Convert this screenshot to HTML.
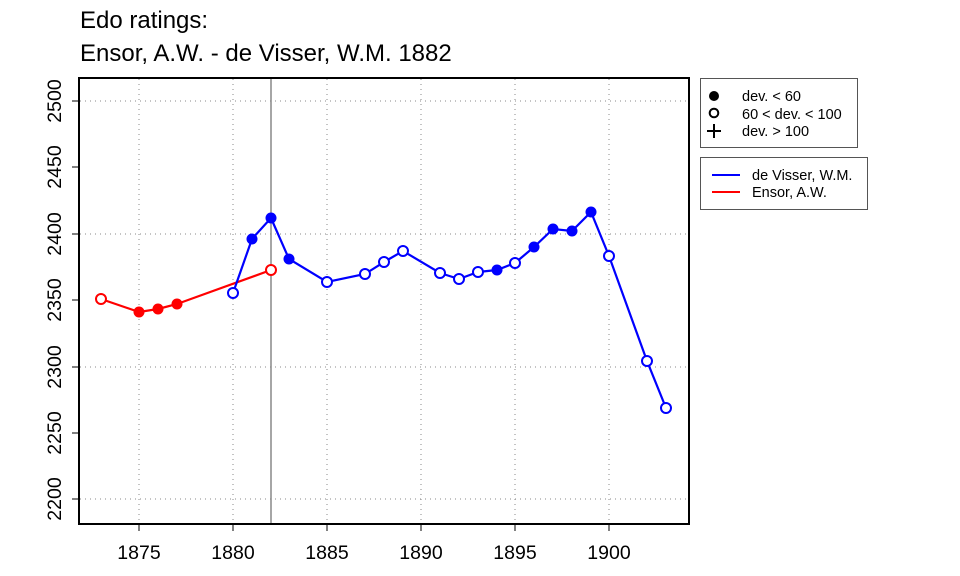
<!DOCTYPE html>
<html><head><style>body{margin:0;background:#fff}svg{display:block}</style></head><body>
<svg width="960" height="576" xmlns="http://www.w3.org/2000/svg" font-family="Liberation Sans, sans-serif">
<rect width="960" height="576" fill="#fff"/>
<text x="80" y="28" font-size="24">Edo ratings:</text>
<text x="80" y="61" font-size="24">Ensor, A.W. - de Visser, W.M. 1882</text>
<g stroke="#888" stroke-width="1" stroke-dasharray="1,4">
<line x1="139" y1="79" x2="139" y2="523"/><line x1="233" y1="79" x2="233" y2="523"/><line x1="327" y1="79" x2="327" y2="523"/><line x1="421" y1="79" x2="421" y2="523"/><line x1="515" y1="79" x2="515" y2="523"/><line x1="609" y1="79" x2="609" y2="523"/>
<line x1="80" y1="101" x2="688" y2="101"/><line x1="80" y1="234" x2="688" y2="234"/><line x1="80" y1="367" x2="688" y2="367"/><line x1="80" y1="499" x2="688" y2="499"/>
</g>
<line x1="271" y1="78" x2="271" y2="524" stroke="#888" stroke-width="1.5"/>
<rect x="79" y="78" width="610" height="446" fill="none" stroke="#000" stroke-width="2"/>
<g stroke="#000" stroke-width="1">
<line x1="139" y1="524" x2="139" y2="531"/><line x1="233" y1="524" x2="233" y2="531"/><line x1="327" y1="524" x2="327" y2="531"/><line x1="421" y1="524" x2="421" y2="531"/><line x1="515" y1="524" x2="515" y2="531"/><line x1="609" y1="524" x2="609" y2="531"/>
<line x1="72" y1="101" x2="79" y2="101"/><line x1="72" y1="167" x2="79" y2="167"/><line x1="72" y1="234" x2="79" y2="234"/><line x1="72" y1="300" x2="79" y2="300"/><line x1="72" y1="367" x2="79" y2="367"/><line x1="72" y1="433" x2="79" y2="433"/><line x1="72" y1="499" x2="79" y2="499"/>
</g>
<g font-size="19.5" text-anchor="middle">
<text x="139" y="559">1875</text><text x="233" y="559">1880</text><text x="327" y="559">1885</text><text x="421" y="559">1890</text><text x="515" y="559">1895</text><text x="609" y="559">1900</text>
<text transform="translate(61,101) rotate(-90)">2500</text>
<text transform="translate(61,167) rotate(-90)">2450</text>
<text transform="translate(61,234) rotate(-90)">2400</text>
<text transform="translate(61,300) rotate(-90)">2350</text>
<text transform="translate(61,367) rotate(-90)">2300</text>
<text transform="translate(61,433) rotate(-90)">2250</text>
<text transform="translate(61,499) rotate(-90)">2200</text>
</g>
<polyline fill="none" stroke="#f00" stroke-width="2.2" points="101,299 139,312 158,309 177,304 271,270"/>
<polyline fill="none" stroke="#00f" stroke-width="2.2" points="233,293 252,239 271,218 289,259 327,282 365,274 384,262 403,251 440,273 459,279 478,272 497,270 515,263 534,247 553,229 572,231 591,212 609,256 647,361 666,408"/>
<g fill="#fff" stroke="#f00" stroke-width="2"><circle cx="101" cy="299" r="5"/><circle cx="271" cy="270" r="5"/></g>
<g fill="#f00"><circle cx="139" cy="312" r="5.5"/><circle cx="158" cy="309" r="5.5"/><circle cx="177" cy="304" r="5.5"/></g>
<g fill="#fff" stroke="#00f" stroke-width="2"><circle cx="233" cy="293" r="5"/><circle cx="327" cy="282" r="5"/><circle cx="365" cy="274" r="5"/><circle cx="384" cy="262" r="5"/><circle cx="403" cy="251" r="5"/><circle cx="440" cy="273" r="5"/><circle cx="459" cy="279" r="5"/><circle cx="478" cy="272" r="5"/><circle cx="515" cy="263" r="5"/><circle cx="609" cy="256" r="5"/><circle cx="647" cy="361" r="5"/><circle cx="666" cy="408" r="5"/></g>
<g fill="#00f"><circle cx="252" cy="239" r="5.5"/><circle cx="271" cy="218" r="5.5"/><circle cx="289" cy="259" r="5.5"/><circle cx="497" cy="270" r="5.5"/><circle cx="534" cy="247" r="5.5"/><circle cx="553" cy="229" r="5.5"/><circle cx="572" cy="231" r="5.5"/><circle cx="591" cy="212" r="5.5"/></g>
<rect x="700.5" y="78.5" width="157" height="69" fill="none" stroke="#555" stroke-width="1"/>
<circle cx="714" cy="96" r="5" fill="#000"/>
<circle cx="714" cy="113" r="4.3" fill="none" stroke="#000" stroke-width="2"/>
<path d="M707 131h14M714 124v14" stroke="#000" stroke-width="2"/>
<g font-size="14.5"><text x="742" y="101">dev. &lt; 60</text><text x="742" y="119">60 &lt; dev. &lt; 100</text><text x="742" y="136">dev. &gt; 100</text></g>
<rect x="700.5" y="157.5" width="167" height="52" fill="none" stroke="#555" stroke-width="1"/>
<line x1="712" y1="175" x2="740" y2="175" stroke="#00f" stroke-width="2"/>
<line x1="712" y1="192" x2="740" y2="192" stroke="#f00" stroke-width="2"/>
<g font-size="14.5"><text x="752" y="180">de Visser, W.M.</text><text x="752" y="197">Ensor, A.W.</text></g>
</svg>
</body></html>
